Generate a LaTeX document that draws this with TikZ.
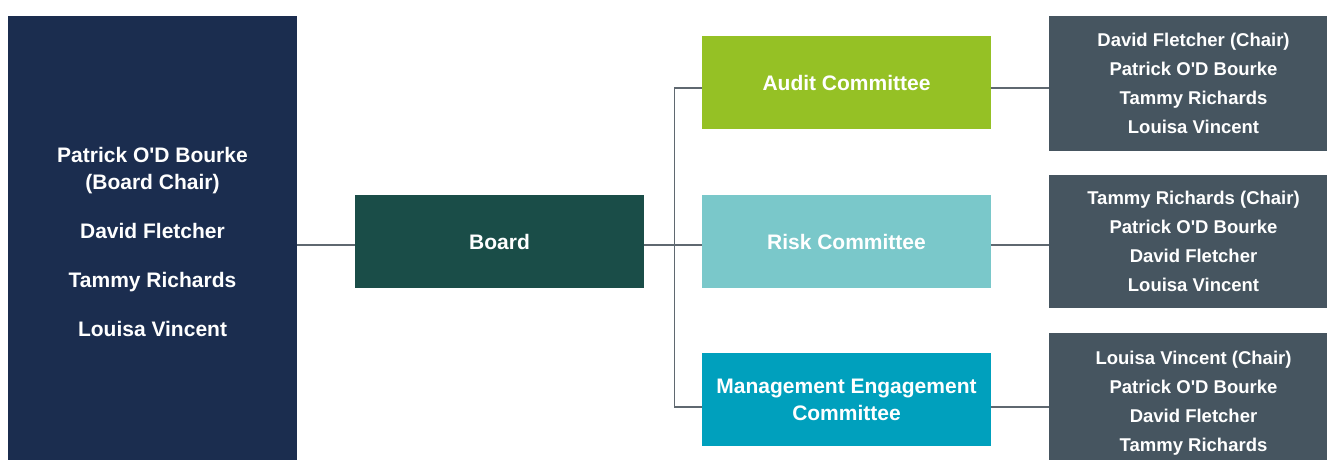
\documentclass[tikz,border=0pt]{standalone}
\usepackage{fontspec}
\newfontfamily\lsans{Liberation Sans}
\definecolor{navy}{HTML}{1B2D4F}
\definecolor{boardc}{HTML}{1A4D48}
\definecolor{auditc}{HTML}{95C125}
\definecolor{riskc}{HTML}{7AC8CA}
\definecolor{mgmtc}{HTML}{00A0BD}
\definecolor{memc}{HTML}{465560}
\definecolor{linec}{HTML}{5F6870}
\begin{document}
\begin{tikzpicture}[x=1pt,y=-1pt,
  box/.style={minimum width=289pt,minimum height=93pt,inner sep=0pt,text=white,align=center,
    font=\lsans\bfseries\fontsize{21}{27}\selectfont},
  membox/.style={minimum width=289pt,minimum height=133pt,inner sep=0pt,text=white,align=center,
    fill=memc,font=\lsans\bfseries\fontsize{18.5}{29}\selectfont},
  conn/.style={draw=linec,line width=1.2pt}]
\useasboundingbox (0,0) rectangle (1327,460);
\node[box,fill=navy,minimum height=452pt] (all) at (152.5,242)
  {Patrick O'D Bourke\\(Board Chair)\\[22pt]David Fletcher\\[22pt]Tammy Richards\\[22pt]Louisa Vincent};
\node[box,fill=boardc] (board) at (499.5,241.5) {Board};
\node[box,fill=auditc] (audit) at (846.5,82.5) {Audit Committee};
\node[box,fill=riskc] (risk) at (846.5,241.5) {Risk Committee};
\node[box,fill=mgmtc] (mgmt) at (846.5,399.5) {Management Engagement\\Committee};
\node[membox,minimum height=135pt] (m1) at (1193.5,83.5) {David Fletcher (Chair)\\Patrick O'D Bourke\\Tammy Richards\\Louisa Vincent};
\node[membox] (m2) at (1193.5,241.5) {Tammy Richards (Chair)\\Patrick O'D Bourke\\David Fletcher\\Louisa Vincent};
\node[membox,minimum height=140pt] (m3) at (1193.5,403) {Louisa Vincent (Chair)\\Patrick O'D Bourke\\David Fletcher\\Tammy Richards};
\draw[conn] ([yshift=-3.5pt]board.west -| all.east) -- ([yshift=-3.5pt]board.west);
\draw[conn] ([yshift=-3.5pt]board.east) -- ([yshift=-3.5pt]risk.west);
\draw[conn] ([yshift=-5.5pt]audit.west) -- ++(-27,0) |- ([yshift=-7.5pt]mgmt.west);
\draw[conn] ([yshift=-5.5pt]audit.east) -- ([yshift=-5.5pt]audit.east -| m1.west);
\draw[conn] ([yshift=-3.5pt]risk.east) -- ([yshift=-3.5pt]risk.east -| m2.west);
\draw[conn] ([yshift=-7.5pt]mgmt.east) -- ([yshift=-7.5pt]mgmt.east -| m3.west);
\end{tikzpicture}
\end{document}
